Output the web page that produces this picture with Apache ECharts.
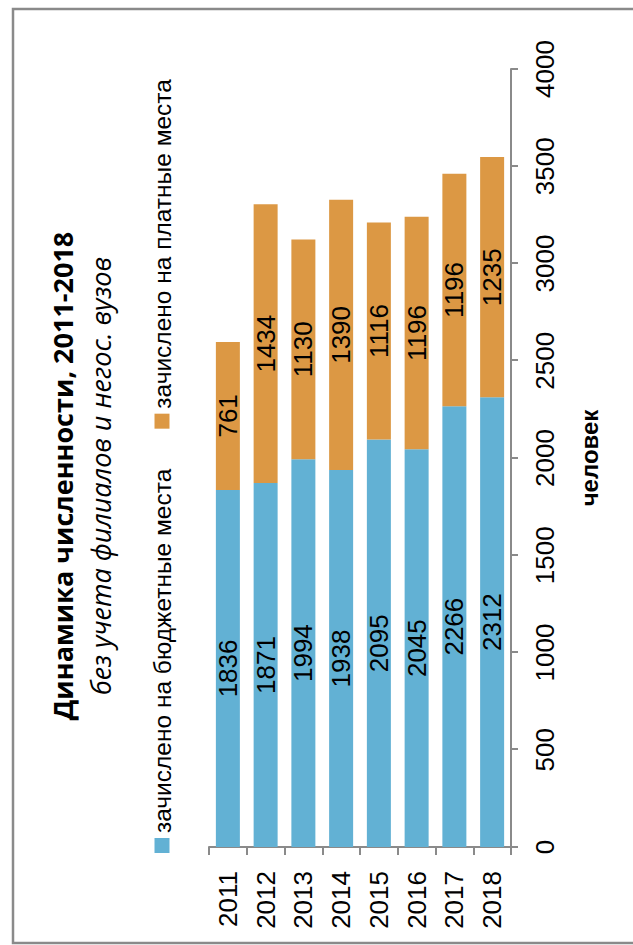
<!DOCTYPE html>
<html>
<head>
<meta charset="utf-8">
<script src="https://cdn.jsdelivr.net/npm/echarts@6/dist/echarts.min.js"></script>
<style>
  html, body { margin: 0; padding: 0; background: #ffffff; overflow: hidden; width: 633px; height: 945px; }
  #chart {
    position: absolute; left: 0; top: 0;
    width: 945px; height: 633px;
    transform-origin: 0 0;
    transform: translateY(945px) rotate(-90deg);
  }
</style>
</head>
<body>
<div id="chart"></div>
<script>
const categories = ['2011', '2012', '2013', '2014', '2015', '2016', '2017', '2018'];
const budgetPlaces = [1836, 1871, 1994, 1938, 2095, 2045, 2266, 2312];
const paidPlaces = [761, 1434, 1130, 1390, 1116, 1196, 1196, 1235];
const seriesNames = ['зачислено на бюджетные места', 'зачислено на платные места'];
const valueTicks = [0, 500, 1000, 1500, 2000, 2500, 3000, 3500, 4000];
const titleText = 'Динамика численности, 2011-2018';
const subtitleText = 'без учета филиалов и негос. вузов';
const axisName = 'человек';

const AXIS_GRAY = '#8a8a8a';
const NARROW = '"Liberation Sans Narrow", "Arial Narrow", sans-serif';

const chart = echarts.init(document.getElementById('chart'), null, { renderer: 'svg', width: 945, height: 633 });

chart.setOption({
  backgroundColor: '#ffffff',
  animation: false,
  graphic: [{
    type: 'rect',
    shape: { x: 2, y: 13, width: 934, height: 700 },
    style: { fill: 'none', stroke: AXIS_GRAY, lineWidth: 2.5 },
    silent: true
  }],
  title: {
    text: titleText,
    subtext: subtitleText,
    left: 469,
    top: 47,
    textAlign: 'center',
    itemGap: 8,
    padding: 0,
    textStyle: { fontFamily: '"Open Sans", sans-serif', fontWeight: 'bold', fontSize: 27, lineHeight: 30, color: '#000' },
    subtextStyle: { fontFamily: '"Open Sans", sans-serif', fontStyle: 'italic', fontSize: 27, lineHeight: 30, color: '#000' }
  },
  legend: {
    data: seriesNames,
    left: 92,
    top: 149,
    width: 840,
    padding: 0,
    icon: 'rect',
    itemWidth: 15,
    itemHeight: 15,
    itemGap: 40,
    textStyle: { fontFamily: NARROW, fontSize: 24.5, lineHeight: 26, color: '#000', padding: [0, 0, 0, 0] }
  },
  grid: { left: 98, right: 69, top: 209, bottom: 122, containLabel: false },
  xAxis: {
    type: 'value',
    min: valueTicks[0],
    max: valueTicks[valueTicks.length - 1],
    interval: valueTicks[1] - valueTicks[0],
    position: 'bottom',
    name: axisName,
    nameLocation: 'middle',
    nameGap: 66,
    nameTextStyle: { fontFamily: '"Liberation Sans", Arial, sans-serif', fontWeight: 'bold', fontSize: 24, color: '#000' },
    axisLine: { show: true, lineStyle: { color: AXIS_GRAY, width: 2 } },
    axisTick: { show: true, length: 7, lineStyle: { color: AXIS_GRAY, width: 2 } },
    splitLine: { show: false },
    axisLabel: { fontFamily: NARROW, fontSize: 26, color: '#000', margin: 21, formatter: function (v) { return String(v); } }
  },
  yAxis: {
    type: 'category',
    data: categories,
    inverse: true,
    axisLine: { show: true, lineStyle: { color: AXIS_GRAY, width: 2 } },
    axisTick: { show: true, length: 8, alignWithLabel: false, lineStyle: { color: AXIS_GRAY, width: 2 } },
    axisLabel: { fontFamily: NARROW, fontSize: 26, color: '#000', margin: 24 }
  },
  series: [
    {
      name: seriesNames[0],
      type: 'bar',
      stack: 'total',
      data: budgetPlaces,
      barWidth: 24,
      itemStyle: { color: '#62b1d4' },
      label: { show: true, position: 'inside', fontFamily: NARROW, fontSize: 26, color: '#000' }
    },
    {
      name: seriesNames[1],
      type: 'bar',
      stack: 'total',
      data: paidPlaces,
      barWidth: 24,
      itemStyle: { color: '#dc9844' },
      label: { show: true, position: 'inside', fontFamily: NARROW, fontSize: 26, color: '#000' }
    }
  ]
});
</script>
</body>
</html>
